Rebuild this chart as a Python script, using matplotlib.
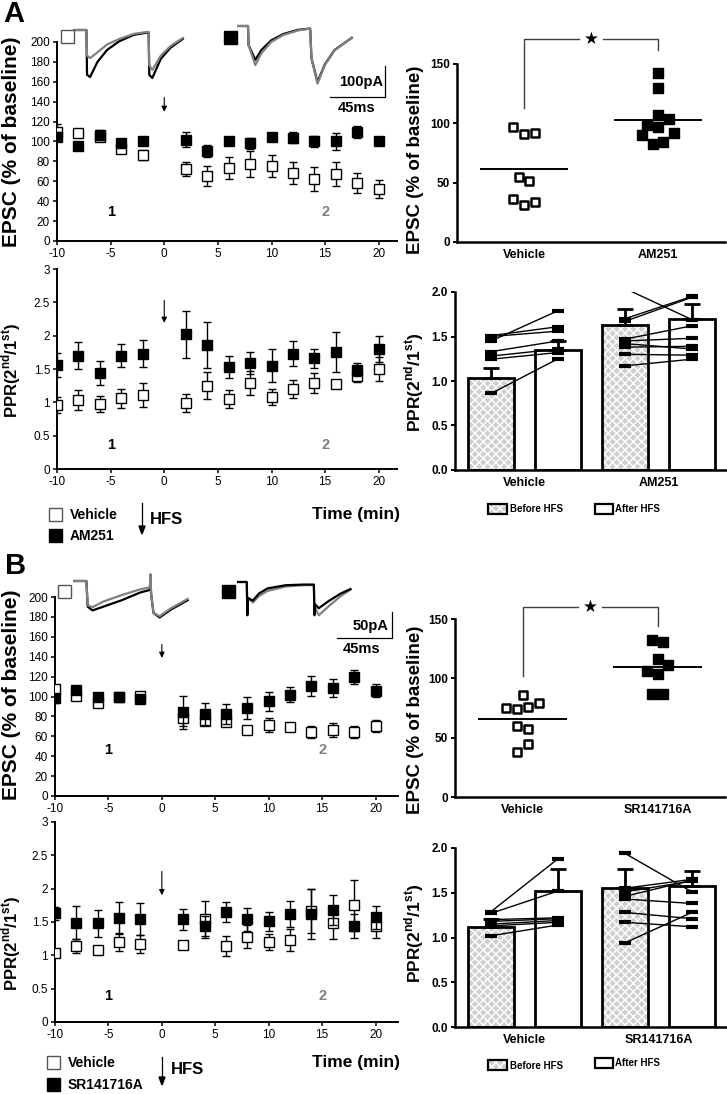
import numpy as np
import matplotlib
matplotlib.use("Agg")
import matplotlib.pyplot as plt
from matplotlib.patches import Rectangle

plt.rcParams['font.family'] = ['Liberation Sans', 'DejaVu Sans']
plt.rcParams['mathtext.fontset'] = 'custom'
plt.rcParams['mathtext.bf'] = 'Liberation Sans:bold'
plt.rcParams['mathtext.rm'] = 'Liberation Sans'
plt.rcParams['axes.unicode_minus'] = False

W, H = 727, 1094
GREY = '#808080'

# ---------------- time course data ----------------
times = [-10, -8, -6, -4, -2, 2, 4, 6, 8, 10, 12, 14, 16, 18, 20]

a_epsc_veh = [110, 109, 105, 92, 86, 72, 65, 73, 77, 75, 68, 62, 67, 58, 52]
a_epsc_veh_err = [8, 4, 4, 3, 5, 7, 10, 11, 13, 11, 11, 12, 12, 10, 9]
a_epsc_am = [105, 95, 107, 98, 100, 102, 90, 100, 98, 105, 104, 100, 100, 110, 101]
a_epsc_am_err = [5, 2, 5, 3, 3, 8, 6, 3, 6, 4, 6, 6, 9, 6, 3]

a_ppr_veh = [0.96, 1.03, 0.98, 1.06, 1.11, 0.99, 1.25, 1.05, 1.29, 1.08, 1.20, 1.29, 1.27, 1.40, 1.50]
a_ppr_veh_err = [0.12, 0.15, 0.12, 0.14, 0.18, 0.14, 0.20, 0.13, 0.18, 0.12, 0.14, 0.15, 0.05, 0.10, 0.18]
a_ppr_am = [1.56, 1.70, 1.44, 1.70, 1.73, 2.02, 1.86, 1.53, 1.59, 1.55, 1.73, 1.66, 1.76, 1.49, 1.80]
a_ppr_am_err = [0.18, 0.20, 0.18, 0.17, 0.20, 0.35, 0.35, 0.16, 0.17, 0.25, 0.19, 0.14, 0.30, 0.10, 0.20]

b_epsc_veh = [108, 101, 93, 100, 101, 78, 75, 74, 66, 71, 69, 64, 66, 64, 70]
b_epsc_veh_err = [3, 3, 4, 2, 3, 8, 4, 4, 4, 7, 4, 6, 7, 6, 6]
b_epsc_sr = [98, 107, 100, 100, 97, 84, 82, 82, 88, 95, 102, 111, 109, 120, 106]
b_epsc_sr_err = [5, 3, 3, 2, 4, 17, 11, 10, 11, 10, 8, 10, 9, 7, 7]

b_ppr_veh = [1.03, 1.14, 1.08, 1.20, 1.17, 1.15, 1.54, 1.14, 1.28, 1.20, 1.23, 1.67, 1.49, 1.75, 1.44]
b_ppr_veh_err = [0.03, 0.11, 0.05, 0.13, 0.14, 0.05, 0.28, 0.15, 0.17, 0.12, 0.16, 0.33, 0.25, 0.38, 0.18]
b_ppr_sr = [1.63, 1.49, 1.48, 1.56, 1.54, 1.54, 1.44, 1.65, 1.54, 1.51, 1.62, 1.62, 1.68, 1.44, 1.57]
b_ppr_sr_err = [0.10, 0.25, 0.20, 0.24, 0.24, 0.16, 0.15, 0.15, 0.17, 0.14, 0.19, 0.37, 0.23, 0.18, 0.17]

# ---------------- scatter data ----------------
a_sc_veh = [97, 91, 92, 55, 51, 36, 31, 34]
a_sc_veh_dx = [-0.08, 0, 0.08, -0.04, 0.04, -0.08, 0, 0.08]
a_sc_am = [142, 130, 107, 104, 99, 97, 90, 92, 83, 84]
a_sc_am_dx = [0, 0, 0, 0.08, -0.08, 0, -0.12, 0.12, -0.04, 0.04]
a_sc_means = [61.5, 103]

b_sc_veh = [86, 75, 74, 76, 79, 60, 57, 45, 38]
b_sc_veh_dx = [0, -0.12, -0.04, 0.04, 0.12, -0.04, 0.04, 0.04, -0.04]
b_sc_sr = [132, 131, 116, 111, 106, 104, 87, 87]
b_sc_sr_dx = [-0.04, 0.04, 0, 0.08, -0.08, 0, -0.04, 0.04]
b_sc_means = [66, 109.5]

# ---------------- bar data ----------------
a_bar_before = [1.03, 1.63]
a_bar_before_err = [0.12, 0.18]
a_bar_after = [1.35, 1.70]
a_bar_after_err = [0.10, 0.17]
a_pair_veh_before = [1.45, 1.51, 1.50, 1.33, 1.28, 1.245, 0.86]
a_pair_veh_after = [1.79, 1.61, 1.56, 1.45, 1.36, 1.32, 1.25]
a_pair_am_before = [2.04, 1.70, 1.67, 1.47, 1.45, 1.42, 1.38, 1.30, 1.17]
a_pair_am_after = [1.69, 1.95, 1.94, 1.62, 1.48, 1.36, 1.39, 1.29, 1.245]

b_bar_before = [1.12, 1.55]
b_bar_before_err = [0.09, 0.21]
b_bar_after = [1.52, 1.58]
b_bar_after_err = [0.24, 0.16]
b_pair_veh_before = [1.29, 1.27, 1.20, 1.18, 1.15, 1.13, 1.02]
b_pair_veh_after = [1.88, 1.52, 1.22, 1.21, 1.19, 1.17, 1.14]
b_pair_sr_before = [1.94, 1.55, 1.51, 1.46, 1.43, 1.28, 1.17, 0.94]
b_pair_sr_after = [1.51, 1.65, 1.63, 1.64, 1.38, 1.21, 1.12, 1.28]

# ---------------- example traces (ms, pA) ----------------
a_veh_t = [0, 11, 11.5, 14, 20, 28, 38, 50, 61, 62, 62.5, 65, 72, 80, 90]
a_veh_black = [0, 0, -140, -147, -100, -62, -35, -15, -8, -8, -140, -150, -90, -55, -28]
a_veh_grey = [0, 0, -80, -88, -70, -45, -28, -12, -6, -6, -110, -125, -80, -50, -25]
a_am_t = [0, 9, 9.5, 15, 20, 28, 38, 50, 60, 61, 66, 72, 80, 94]
a_am_black = [0, 0, -60, -106, -75, -45, -25, -12, -8, -100, -175, -120, -75, -37]
a_am_grey = [0, 0, -60, -122, -85, -50, -28, -14, -8, -100, -180, -122, -76, -37]
b_veh_t = [0, 11, 12, 16, 25, 40, 55, 63, 63.5, 64, 66, 71, 80, 94]
b_veh_black = [0, 0, -40, -46, -40, -30, -18, -14, 10, -20, -50, -57, -45, -30]
b_veh_grey = [0, 0, -38, -41, -32, -22, -13, -10, 10, -20, -50, -55, -43, -28]
b_sr_t = [0, 8, 8.5, 9, 13, 18, 25, 40, 55, 63, 63.5, 64, 67, 75, 85, 93]
b_sr_black = [0, 0, -52, -25, -29, -18, -10, -5, -4, -4, -52, -35, -41, -30, -18, -11]
b_sr_grey = [0, 0, -45, -25, -32, -22, -14, -7, -5, -5, -45, -40, -52, -38, -22, -12]

fig = plt.figure(figsize=(W / 100, H / 100), dpi=100)


def px_axes(left, top, right, bottom):
    return fig.add_axes([left / W, 1 - bottom / H, (right - left) / W, (bottom - top) / H])


def style(ax, lw=1.4):
    for s in ['top', 'right']:
        ax.spines[s].set_visible(False)
    for s in ['left', 'bottom']:
        ax.spines[s].set_linewidth(lw)
    ax.patch.set_alpha(0)


def time_course(ax, veh, veh_err, drug, drug_err, xlim, ylim, yticks, lab_y, arrow):
    style(ax)
    ax.errorbar(times, veh, yerr=veh_err, fmt='s', ms=7, mfc='white', mec='black',
                mew=1.0, ecolor='black', elinewidth=1.0, capsize=3, zorder=3)
    ax.errorbar(times, drug, yerr=drug_err, fmt='s', ms=7, mfc='black', mec='black',
                ecolor='black', elinewidth=1.0, capsize=3, zorder=4)
    ax.set_xlim(*xlim)
    ax.set_ylim(*ylim)
    ax.set_xticks([-10, -5, 0, 5, 10, 15, 20])
    ax.set_yticks(yticks)
    ax.set_yticklabels([f'{v:g}' for v in yticks])
    ax.tick_params(labelsize=8.5, length=3, width=1.1, pad=2)
    ax.text(-5, lab_y, '1', fontsize=10.5, fontweight='bold', ha='center', va='center')
    ax.text(15, lab_y, '2', fontsize=10.5, fontweight='bold', ha='center', va='center', color=GREY)
    ax.annotate('', xy=(0, arrow[1]), xytext=(0, arrow[0]),
                arrowprops=dict(arrowstyle='-|>', color='black', lw=0.8, mutation_scale=8))


def scatter_panel(ax, veh, veh_dx, drug, drug_dx, means, label, bracket):
    style(ax, 1.8)
    ax.scatter(1 + np.array(veh_dx), veh, marker='s', s=40, facecolor='white',
               edgecolor='black', linewidth=1.8, zorder=3)
    ax.scatter(2 + np.array(drug_dx), drug, marker='s', s=50, facecolor='black',
               edgecolor='black', zorder=3)
    ax.hlines(means, [0.67, 1.67], [1.33, 2.33], color='black', lw=1.4)
    ax.set_xlim(0.5, 2.5)
    ax.set_ylim(0, 150)
    ax.set_yticks([0, 50, 100, 150])
    ax.set_xticks([1, 2])
    ax.set_xticklabels(['Vehicle', label], fontsize=9, fontweight='bold')
    ax.tick_params(axis='x', length=0, pad=5)
    ax.tick_params(axis='y', labelsize=8.5, length=3, width=1.4, pad=2)
    for t in ax.get_yticklabels():
        t.set_fontweight('bold')
    lo_l, top, lo_r, gap = bracket
    kw = dict(color='#404040', lw=1.0, clip_on=False)
    ax.plot([1, 1, 1.5 - gap], [lo_l, top, top], **kw)
    ax.plot([1.5 + gap, 2, 2], [top, top, lo_r], **kw)
    ax.text(1.5, top, '\u2605', fontsize=12, ha='center', va='center',
            family='DejaVu Sans', clip_on=False)


def bar_panel(ax, before, before_err, after, after_err, pairs, label):
    style(ax, 1.8)
    x = np.array([1, 2])
    w = 0.34
    ax.bar(x - 0.25, before, w, color='#cfcfcf', edgecolor='white', hatch='xxxx',
           linewidth=0, zorder=1)
    ax.bar(x - 0.25, before, w, fill=False, edgecolor='black', linewidth=2, zorder=2)
    ax.bar(x + 0.25, after, w, color='white', edgecolor='black', linewidth=2, zorder=2)
    ax.errorbar(x - 0.25, before, yerr=[[0, 0], before_err], fmt='none', ecolor='black',
                elinewidth=2, capsize=6, capthick=2, zorder=2)
    ax.errorbar(x + 0.25, after, yerr=[[0, 0], after_err], fmt='none', ecolor='black',
                elinewidth=2, capsize=6, capthick=2, zorder=2)
    for xi, (b, a) in zip(x, pairs):
        for bv, av in zip(b, a):
            ax.plot([xi - 0.25, xi + 0.25], [bv, av], color='black', lw=1.0, zorder=3,
                    marker='_', ms=8, mew=3)
    ax.set_xlim(0.48, 2.52)
    ax.set_ylim(0, 2.0)
    ax.set_yticks([0, 0.5, 1.0, 1.5, 2.0])
    ax.set_yticklabels(['0.0', '0.5', '1.0', '1.5', '2.0'])
    ax.set_xticks([1, 2])
    ax.set_xticklabels(['Vehicle', label], fontsize=9, fontweight='bold')
    ax.tick_params(axis='x', length=0, pad=5)
    ax.tick_params(axis='y', labelsize=8.5, length=3, width=1.4, pad=2)
    for t in ax.get_yticklabels():
        t.set_fontweight('bold')


def trace(x0, y0, t, black, grey, px_ms, px_pa, grey_top=True):
    tmax, imin, imax = 100, -200, 20
    ax = fig.add_axes([x0 / W, 1 - (y0 - imin * px_pa) / H,
                       tmax * px_ms / W, (imax - imin) * px_pa / H])
    ax.set_xlim(0, tmax)
    ax.set_ylim(imin, imax)
    ax.axis('off')
    zb, zg = (1, 2) if grey_top else (2, 1)
    ax.plot(t, black, color='black', lw=1.6, zorder=zb)
    ax.plot(t, grey, color=GREY, lw=1.6, zorder=zg)


def ylabel(x, y, s, size=12.5):
    fig.text(x / W, 1 - y / H, s, rotation=90, ha='center', va='center',
             fontsize=size, fontweight='bold')


def square(x, y, filled, size=13):
    fig.add_artist(Rectangle((x / W, 1 - (y + size) / H), size / W, size / H,
                             transform=fig.transFigure,
                             facecolor='black' if filled else 'white',
                             edgecolor='black' if filled else '#555555', lw=1.0))


def ftext(x, y, s, **kw):
    fig.text(x / W, 1 - y / H, s, **kw)


ppr = r'PPR(2$^{\mathbf{nd}}$/1$^{\mathbf{st}}$)'

# ---------------- panel A ----------------
ax = px_axes(57, 42, 397, 241)
time_course(ax, a_epsc_veh, a_epsc_veh_err, a_epsc_am, a_epsc_am_err,
            (-10, 21.7), (0, 200), list(range(0, 201, 20)), 29, (147, 127))
ax = px_axes(57, 269, 397, 469)
time_course(ax, a_ppr_veh, a_ppr_veh_err, a_ppr_am, a_ppr_am_err,
            (-10, 21.7), (0, 3), [0, 0.5, 1, 1.5, 2, 2.5, 3], 0.36, (2.57, 2.15))
ax = px_axes(457, 64, 725, 242)
scatter_panel(ax, a_sc_veh, a_sc_veh_dx, a_sc_am, a_sc_am_dx, a_sc_means, 'AM251',
              (113, 171, 162, 0.09))
ax = px_axes(455, 292, 728, 470)
bar_panel(ax, a_bar_before, a_bar_before_err, a_bar_after, a_bar_after_err,
          [(a_pair_veh_before, a_pair_veh_after), (a_pair_am_before, a_pair_am_after)], 'AM251')

ylabel(12, 142, 'EPSC (% of baseline)', 15)
ylabel(11, 370, ppr, 12)
ylabel(416, 160, 'EPSC (% of baseline)', 13.5)
ylabel(414, 382, ppr, 12.5)

trace(73, 30, a_veh_t, a_veh_black, a_veh_grey, 1.22, 0.32)
trace(237, 26, a_am_t, a_am_black, a_am_grey, 1.22, 0.32)
square(61, 30, False)
square(224, 31, True)
fig.add_artist(plt.Line2D([330 / W, 385 / W, 385 / W], [1 - 97 / H, 1 - 97 / H, 1 - 66 / H],
                          color='black', lw=0.9))
ftext(383, 82, '100pA', fontsize=10.5, fontweight='bold', ha='right', va='center')
ftext(357, 108, '45ms', fontsize=10.5, fontweight='bold', ha='center', va='center')
ftext(3, 14, 'A', fontsize=21, fontweight='bold', ha='left', va='center')

# legends A
square(49, 508, False)
ftext(70, 515, 'Vehicle', fontsize=10, fontweight='bold', va='center')
square(49, 529, True)
ftext(70, 536, 'AM251', fontsize=10, fontweight='bold', va='center')
fig.add_artist(plt.Line2D([142 / W, 142 / W], [1 - 503 / H, 1 - 527 / H], color='black', lw=0.9))
fig.add_artist(plt.Polygon([[139 / W, 1 - 526 / H], [145 / W, 1 - 526 / H], [142 / W, 1 - 534 / H]],
                           color='black', transform=fig.transFigure))
ftext(150, 520, 'HFS', fontsize=12, fontweight='bold', va='center')
ftext(400, 515, 'Time (min)', fontsize=12.5, fontweight='bold', ha='right', va='center')
fig.add_artist(Rectangle((488 / W, 1 - 514 / H), 19 / W, 10 / H, transform=fig.transFigure,
                         facecolor='#cfcfcf', edgecolor='white', hatch='xxxx', lw=0))
fig.add_artist(Rectangle((488 / W, 1 - 514 / H), 19 / W, 10 / H, transform=fig.transFigure,
                         fill=False, edgecolor='black', lw=1.6))
ftext(510, 509, 'Before HFS', fontsize=7, fontweight='bold', va='center')
fig.add_artist(Rectangle((595 / W, 1 - 514 / H), 18 / W, 10 / H, transform=fig.transFigure,
                         facecolor='white', edgecolor='black', lw=1.6))
ftext(615, 509, 'After HFS', fontsize=7, fontweight='bold', va='center')

# ---------------- panel B ----------------
ax = px_axes(55, 597, 398, 796)
time_course(ax, b_epsc_veh, b_epsc_veh_err, b_epsc_sr, b_epsc_sr_err,
            (-10, 22.1), (0, 200), list(range(0, 201, 20)), 46, (155, 136))
ax = px_axes(55, 822, 398, 1022)
time_course(ax, b_ppr_veh, b_ppr_veh_err, b_ppr_sr, b_ppr_sr_err,
            (-10, 22.1), (0, 3), [0, 0.5, 1, 1.5, 2, 2.5, 3], 0.39, (2.30, 1.86))
ax = px_axes(455, 619, 725, 797)
scatter_panel(ax, b_sc_veh, b_sc_veh_dx, b_sc_sr, b_sc_sr_dx, b_sc_means, 'SR141716A',
              (102, 160, 144, 0.09))
ax = px_axes(455, 848, 728, 1027)
bar_panel(ax, b_bar_before, b_bar_before_err, b_bar_after, b_bar_after_err,
          [(b_pair_veh_before, b_pair_veh_after), (b_pair_sr_before, b_pair_sr_after)], 'SR141716A')

ylabel(12, 695, 'EPSC (% of baseline)', 15)
ylabel(11, 943, ppr, 12)
ylabel(416, 720, 'EPSC (% of baseline)', 13.5)
ylabel(414, 933, ppr, 12.5)

trace(73, 581, b_veh_t, b_veh_black, b_veh_grey, 1.22, 0.64)
trace(237, 582, b_sr_t, b_sr_black, b_sr_grey, 1.22, 0.64, grey_top=False)
square(58, 585, False)
square(222, 585, True)
fig.add_artist(plt.Line2D([337 / W, 392 / W, 392 / W], [1 - 638 / H, 1 - 638 / H, 1 - 612 / H],
                          color='black', lw=0.9))
ftext(389, 626, '50pA', fontsize=10.5, fontweight='bold', ha='right', va='center')
ftext(362, 649, '45ms', fontsize=10.5, fontweight='bold', ha='center', va='center')
ftext(5, 566, 'B', fontsize=21, fontweight='bold', ha='left', va='center')

square(47, 1056, False)
ftext(68, 1063, 'Vehicle', fontsize=10, fontweight='bold', va='center')
square(47, 1078, True)
ftext(68, 1085, 'SR141716A', fontsize=10, fontweight='bold', va='center')
fig.add_artist(plt.Line2D([162 / W, 162 / W], [1 - 1057 / H, 1 - 1078 / H], color='black', lw=0.9))
fig.add_artist(plt.Polygon([[159 / W, 1 - 1077 / H], [165 / W, 1 - 1077 / H], [162 / W, 1 - 1085 / H]],
                           color='black', transform=fig.transFigure))
ftext(171, 1070, 'HFS', fontsize=12, fontweight='bold', va='center')
ftext(400, 1063, 'Time (min)', fontsize=12.5, fontweight='bold', ha='right', va='center')
fig.add_artist(Rectangle((488 / W, 1 - 1070 / H), 19 / W, 10 / H, transform=fig.transFigure,
                         facecolor='#cfcfcf', edgecolor='white', hatch='xxxx', lw=0))
fig.add_artist(Rectangle((488 / W, 1 - 1070 / H), 19 / W, 10 / H, transform=fig.transFigure,
                         fill=False, edgecolor='black', lw=1.6))
ftext(510, 1066, 'Before HFS', fontsize=7, fontweight='bold', va='center')
fig.add_artist(Rectangle((595 / W, 1 - 1068 / H), 18 / W, 10 / H, transform=fig.transFigure,
                         facecolor='white', edgecolor='black', lw=1.6))
ftext(615, 1063, 'After HFS', fontsize=7, fontweight='bold', va='center')

fig.savefig('out.png', dpi=100)
